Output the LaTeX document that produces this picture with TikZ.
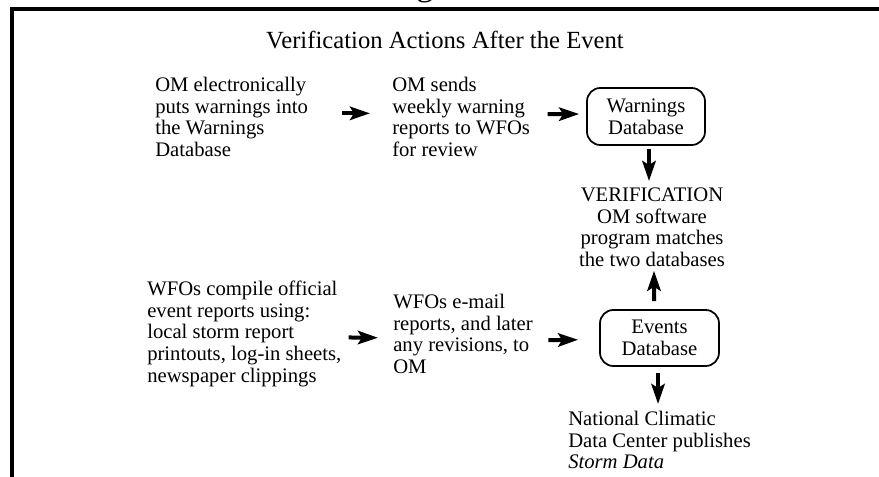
\documentclass[tikz,border=0pt]{standalone}
\usepackage{fontspec}
\setmainfont{Liberation Serif}
\usetikzlibrary{arrows.meta}
\begin{document}
\begin{tikzpicture}[x=0.75pt,y=-0.75pt,
  bodyfont/.style={font=\fontsize{15.5}{16.3}\selectfont},
  txt/.style={bodyfont, inner sep=0pt, align=left, anchor=north west},
  ctxt/.style={bodyfont, inner sep=0pt, align=center, anchor=north},
  dbbox/.style={bodyfont, draw, line width=1.3pt, rounded corners=10pt,
    inner sep=0pt, align=center},
  arr/.style={line width=3pt, -{Stealth[length=15pt,width=10pt,inset=3pt]}},
]
\useasboundingbox (0,0) rectangle (879,476);

% frame: top rule and left rule
\draw[line width=3pt, line join=miter] (885,8.5) -- (12,8.5) -- (12,482);

% heading above the frame (only its descender shows)
\node[font=\fontsize{26}{30}\selectfont, anchor=base, inner sep=0pt] (headg) at (425,-4.6) {g};

% title
\node[font=\fontsize{18.5}{22}\selectfont, anchor=base, inner sep=0pt] (title) at (445,48)
  {Verification Actions After the Event};

% upper row
\node[txt] (omput) at (155,75.8)
  {\strut OM electronically\\\strut puts warnings into\\\strut the Warnings\\\strut Database};
\node[txt] (omsend) at (392,75.8)
  {\strut OM sends\\\strut weekly warning\\\strut reports to WFOs\\\strut for review};
\node[dbbox, minimum width=88.5pt, minimum height=42.75pt] (wdb) at (646,116.5)
  {Warnings\\Database};

% verification step
\node[ctxt] (verif) at (652,185.8)
  {\strut VERIFICATION\\\strut OM software\\\strut program matches\\\strut the two databases};

% lower row
\node[txt] (wfocomp) at (147,279.8)
  {\strut WFOs compile official\\\strut event reports using:\\\strut local storm report\\\strut printouts, log-in sheets,\\\strut newspaper clippings};
\node[txt] (wfomail) at (393,292.8)
  {\strut WFOs e-mail\\\strut reports, and later\\\strut any revisions, to\\\strut OM};
\node[dbbox, minimum width=89.25pt, minimum height=42pt] (edb) at (659.5,338)
  {Events\\Database};

\node[txt] (ncdc) at (568,409.8)
  {\strut National Climatic\\\strut Data Center publishes\\\strut\textit{Storm Data}};

% connectors
\draw[arr, shorten <=25.5pt, shorten >=16.5pt]
  ([yshift=4.65pt]omput.east) -- ([yshift=4.65pt]omsend.west);
\draw[arr, shorten <=13pt, shorten >=5.25pt]
  ([yshift=3.9pt]omsend.east) -- ([yshift=1.9pt]wdb.west);
\draw[arr, shorten <=2.25pt, shorten >=3.6pt]
  ([xshift=2.25pt]wdb.south) -- ([xshift=-2.25pt]verif.north);
\draw[arr, shorten <=5.25pt, shorten >=11.25pt]
  ([yshift=-2.25pt]wfocomp.east) -- ([yshift=-1pt]wfomail.west);
\draw[arr, shorten <=11.5pt, shorten >=15.75pt]
  ([yshift=-2.85pt]wfomail.east) -- ([yshift=-1.1pt]edb.west);
\draw[arr, shorten <=6pt, shorten >=-1.9pt]
  ([xshift=-4.1pt]edb.north) -- ([xshift=1.5pt]verif.south);
\draw[arr, shorten <=4.5pt, shorten >=4.35pt]
  ([xshift=-1.1pt]edb.south) -- ([xshift=-1.1pt]edb.south |- ncdc.north);
\end{tikzpicture}
\end{document}
